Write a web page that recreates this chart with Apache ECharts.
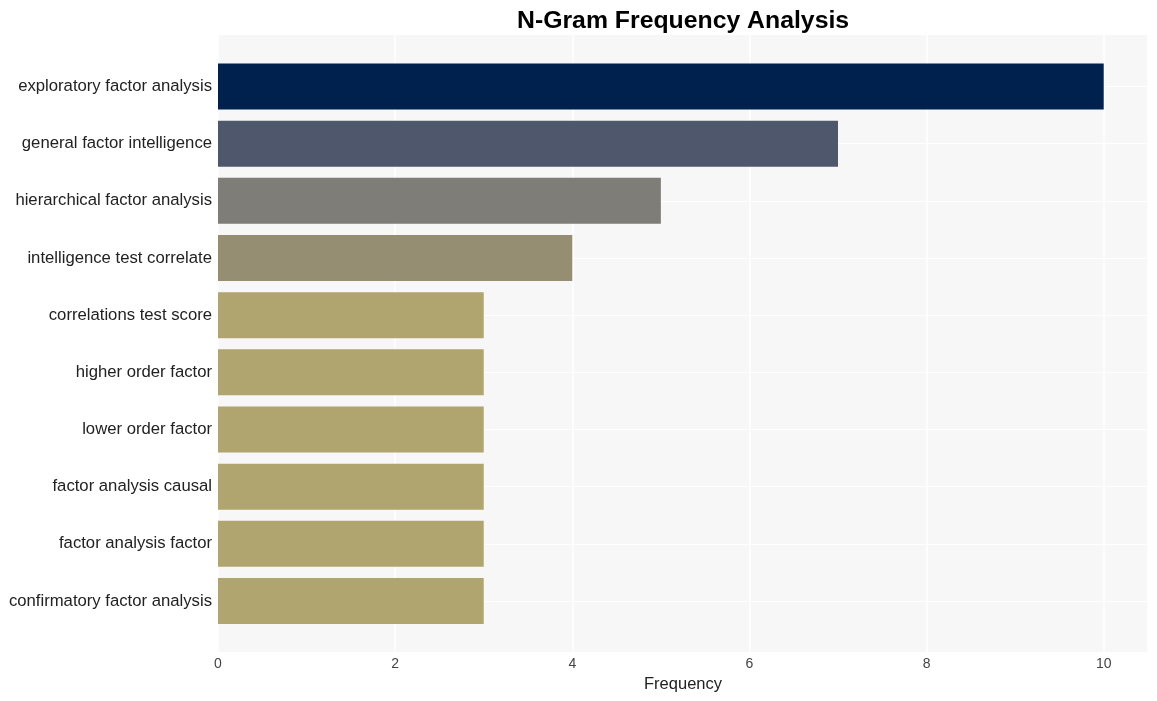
<!DOCTYPE html>
<html>
<head>
<meta charset="utf-8">
<script src="https://cdn.jsdelivr.net/npm/echarts@6/dist/echarts.min.js"></script>
<style>html,body{margin:0;padding:0;background:#fff}#c{width:1157px;height:701px}</style>
</head>
<body>
<div id="c"></div>
<script>
const categories = ["exploratory factor analysis","general factor intelligence","hierarchical factor analysis","intelligence test correlate","correlations test score","higher order factor","lower order factor","factor analysis causal","factor analysis factor","confirmatory factor analysis"];
const values = [10,7,5,4,3,3,3,3,3,3];
const barColors = ["#00214e","#4f576c","#7f7d77","#968e73","#b0a46f","#b0a46f","#b0a46f","#b0a46f","#b0a46f","#b0a46f"];
const xTicks = [0,2,4,6,8,10];

const chart = echarts.init(document.getElementById('c'));
chart.setOption({
  backgroundColor:'#fff',
  animation:false,
  title:{text:'N-Gram Frequency Analysis',left:517,top:4,padding:[5,0,5,0],
    textStyle:{fontFamily:'Liberation Sans, Arial',fontWeight:'bold',fontSize:24.8,color:'#000'}},
  grid:[
    {left:218,right:9,top:35,bottom:49,show:true,backgroundColor:'#f7f7f7',borderWidth:0},
    {left:218,right:9,top:86.5,bottom:100}
  ],
  xAxis:[
    {gridIndex:0,type:'value',min:0,max:10.5,interval:2,
     axisLine:{show:false},axisTick:{show:false},
     axisLabel:{color:'#444',fontSize:14,fontFamily:'Liberation Sans, Arial',margin:5,
       formatter:v=>xTicks.includes(v)?String(v):''},
     splitLine:{show:true,lineStyle:{color:'#ffffff',width:1.5}},
     name:'Frequency',nameLocation:'middle',nameGap:24,
     nameTextStyle:{color:'#222',fontSize:16.5,fontFamily:'Liberation Sans, Arial'}},
    {gridIndex:1,type:'value',min:0,max:10.5,show:false,splitLine:{show:false}}
  ],
  yAxis:[
    {gridIndex:0,type:'value',show:false,splitLine:{show:false}},
    {gridIndex:1,type:'category',data:categories,inverse:true,boundaryGap:false,
     axisLine:{show:false},axisTick:{show:false},
     axisLabel:{color:'#222',fontSize:16.7,fontFamily:'Liberation Sans, Arial',margin:6,padding:[4,0,0,0]},
     splitLine:{show:true,lineStyle:{color:'#ffffff',width:1}}}
  ],
  series:[{
    type:'bar',xAxisIndex:1,yAxisIndex:1,barWidth:46,
    data:values.map((v,i)=>({value:v,itemStyle:{color:barColors[i]}}))
  }]
});
</script>
</body>
</html>
